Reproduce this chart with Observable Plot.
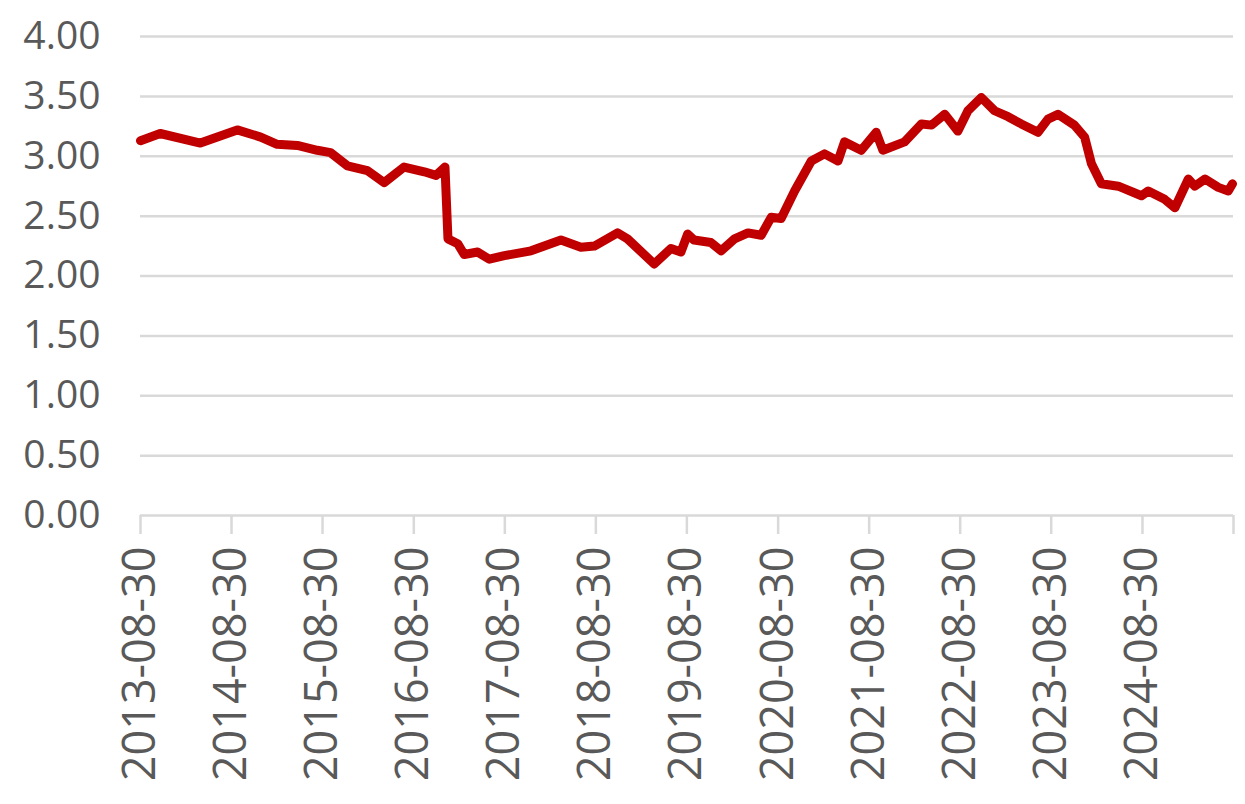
<!DOCTYPE html>
<html>
<head>
<meta charset="utf-8">
<script src="https://cdn.jsdelivr.net/npm/d3@7"></script>
<script src="https://cdn.jsdelivr.net/npm/@observablehq/plot@0.6"></script>
<style>
  html, body { margin: 0; padding: 0; background: #fff; }
  #chart svg { display: block; }
</style>
</head>
<body>
<div id="chart"></div>
<script>
const dates = [
  "2013-08-30","2013-11-17","2014-04-27","2014-09-22","2014-12-25","2015-03-01","2015-05-21","2015-08-09",
  "2015-10-01","2015-12-08","2016-02-26","2016-05-03","2016-07-22","2016-10-11","2016-11-27","2017-01-02",
  "2017-01-14","2017-02-22","2017-03-20","2017-05-13","2017-06-29","2017-08-28","2017-12-13","2018-04-12",
  "2018-07-01","2018-08-24","2018-11-25","2019-01-04","2019-04-21","2019-06-27","2019-08-06","2019-09-02",
  "2019-09-28","2019-12-04","2020-01-14","2020-03-08","2020-05-01","2020-06-23","2020-08-02","2020-09-11",
  "2020-11-04","2021-01-10","2021-03-04","2021-04-27","2021-05-23","2021-07-29","2021-09-27","2021-10-24",
  "2022-01-19","2022-03-28","2022-05-07","2022-06-29","2022-08-21","2022-09-30","2022-11-23","2023-01-15",
  "2023-03-10","2023-05-02","2023-07-08","2023-08-17","2023-09-26","2023-12-01","2024-01-11","2024-02-07",
  "2024-03-18","2024-05-25","2024-08-26","2024-09-22","2024-11-27","2025-01-07","2025-03-02","2025-03-28",
  "2025-05-08","2025-06-30","2025-08-09","2025-08-26"
];
const values = [
  3.13,3.19,3.11,3.22,3.16,3.10,3.09,3.05,
  3.03,2.92,2.88,2.78,2.91,2.87,2.84,2.91,
  2.31,2.27,2.18,2.20,2.14,2.17,2.21,2.30,
  2.24,2.25,2.36,2.31,2.10,2.23,2.20,2.35,
  2.30,2.28,2.21,2.31,2.36,2.34,2.49,2.48,
  2.71,2.96,3.02,2.96,3.12,3.05,3.20,3.05,
  3.12,3.27,3.26,3.35,3.21,3.38,3.49,3.38,
  3.33,3.27,3.20,3.31,3.35,3.26,3.16,2.94,
  2.77,2.75,2.67,2.71,2.64,2.57,2.81,2.75,
  2.81,2.74,2.71,2.77
];
const xTickLabels = [
  "2013-08-30","2014-08-30","2015-08-30","2016-08-30","2017-08-30","2018-08-30",
  "2019-08-30","2020-08-30","2021-08-30","2022-08-30","2023-08-30","2024-08-30"
];
const xEnd = "2025-08-30";
const yTicks = [0, 0.5, 1, 1.5, 2, 2.5, 3, 3.5, 4];

const data = dates.map((d, i) => ({date: new Date(d + "T00:00:00Z"), value: values[i]}));
const tickDates = xTickLabels.concat([xEnd]).map(d => new Date(d + "T00:00:00Z"));
const labelSet = new Set(xTickLabels);
const fmt = d3.utcFormat("%Y-%m-%d");

const chart = Plot.plot({
  width: 1245,
  height: 804,
  marginLeft: 140,
  marginRight: 12,
  marginTop: 36,
  marginBottom: 289,
  style: {fontFamily: "'Open Sans', sans-serif", background: "#fff"},
  x: {type: "utc", domain: [new Date(xTickLabels[0] + "T00:00:00Z"), new Date(xEnd + "T00:00:00Z")]},
  y: {domain: [0, 4]},
  marks: [
    Plot.ruleY(yTicks, {stroke: "#d9d9d9", strokeWidth: 2.5}),
    Plot.axisY({ticks: yTicks, tickFormat: d3.format(".2f"), tickSize: 0, tickPadding: 40,
      fontSize: 39, fill: "#595959", label: null}),
    Plot.axisX({ticks: tickDates, tickFormat: d => labelSet.has(fmt(d)) ? fmt(d) : "",
      tickSize: 19, tickPadding: 12, tickRotate: -90, stroke: "#d9d9d9", strokeWidth: 2.5,
      fontSize: 45, fill: "#595959", label: null}),
    Plot.line(data, {x: "date", y: "value", stroke: "#c00000", strokeWidth: 9,
      strokeLinejoin: "round", strokeLinecap: "round"})
  ]
});
document.getElementById("chart").appendChild(chart);
</script>
</body>
</html>
